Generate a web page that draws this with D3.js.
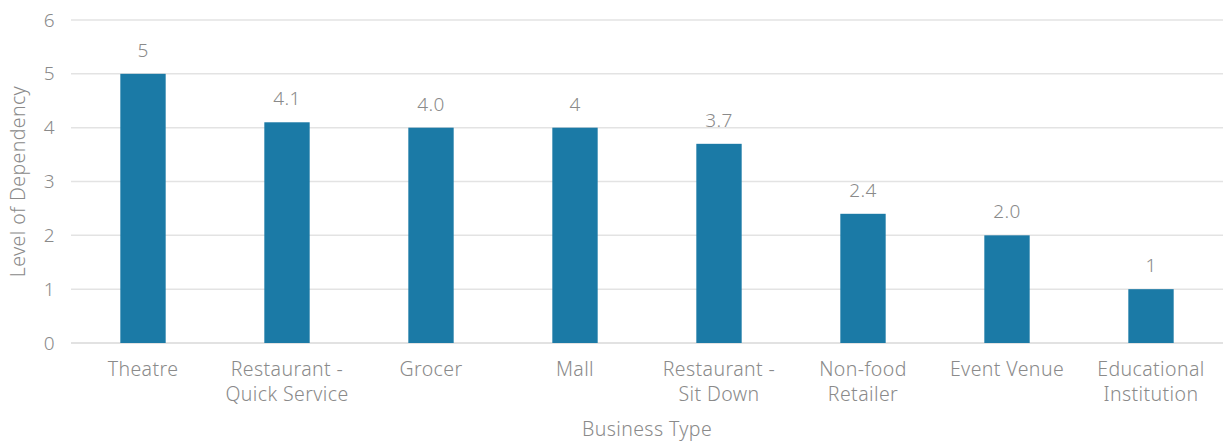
<!DOCTYPE html>
<html>
<head>
<meta charset="utf-8">
<script src="https://cdn.jsdelivr.net/npm/d3@7"></script>
<style>
  html, body { margin: 0; padding: 0; background: #fff; }
  svg text { font-family: "Noto Sans", "Open Sans", sans-serif; font-weight: 300; fill: #8a8a8a; letter-spacing: 0.4px; }
</style>
</head>
<body>
<svg id="chart" width="1224" height="444"></svg>
<script>
// Business types, their dependency scores and the number of decimals shown on each label
const categories = [
  ["Theatre"],
  ["Restaurant -", "Quick Service"],
  ["Grocer"],
  ["Mall"],
  ["Restaurant -", "Sit Down"],
  ["Non-food", "Retailer"],
  ["Event Venue"],
  ["Educational", "Institution"]
];
const values = [5, 4.1, 4.0, 4, 3.7, 2.4, 2.0, 1];
const labelDecimals = [0, 1, 1, 0, 1, 1, 1, 0];
const yTicks = [0, 1, 2, 3, 4, 5, 6];

const svg = d3.select("#chart");
const margin = { left: 71, right: 1, top: 20, bottom: 101 };
const W = 1224, H = 444;

const x = d3.scaleBand()
  .domain(d3.range(categories.length))
  .range([margin.left, W - margin.right])
  .paddingInner(0.685)
  .paddingOuter(0.3425);

const y = d3.scaleLinear().domain([0, 6]).range([H - margin.bottom, margin.top]);

// horizontal gridlines
svg.append("g")
  .selectAll("line")
  .data(yTicks)
  .join("line")
  .attr("x1", margin.left)
  .attr("x2", W - margin.right)
  .attr("y1", d => y(d))
  .attr("y2", d => y(d))
  .attr("stroke", d => d === 0 ? "#d9d9d9" : "#e3e3e3")
  .attr("stroke-width", 1.5);

// y tick labels
const yAxis = svg.append("g")
  .attr("transform", `translate(${margin.left},0)`)
  .call(d3.axisLeft(y).tickValues(yTicks).tickFormat(d3.format("d")).tickSize(0).tickPadding(16));
yAxis.select(".domain").remove();
yAxis.selectAll("text")
  .attr("font-size", 19)
  .attr("fill", "#8a8a8a")
  .style("font-family", '"Noto Sans", sans-serif')
  .style("font-weight", 300);

// bars
svg.append("g")
  .selectAll("rect")
  .data(values)
  .join("rect")
  .attr("x", (d, i) => x(i))
  .attr("width", x.bandwidth())
  .attr("y", d => y(d))
  .attr("height", d => y(0) - y(d))
  .attr("fill", "#1b7aa6");

// value labels
svg.append("g")
  .selectAll("text")
  .data(values)
  .join("text")
  .attr("x", (d, i) => x(i) + x.bandwidth() / 2)
  .attr("y", d => y(d) - 17)
  .attr("text-anchor", "middle")
  .attr("font-size", 19)
  .text((d, i) => d.toFixed(labelDecimals[i]));

// category labels
const cat = svg.append("g")
  .selectAll("text")
  .data(categories)
  .join("text")
  .attr("x", (d, i) => x(i) + x.bandwidth() / 2)
  .attr("y", 376)
  .attr("text-anchor", "middle")
  .attr("font-size", 19.5);
cat.selectAll("tspan")
  .data(d => d)
  .join("tspan")
  .attr("x", function () { return d3.select(this.parentNode).attr("x"); })
  .attr("dy", (d, i) => i === 0 ? 0 : 25)
  .text(d => d);

// axis titles
svg.append("text")
  .attr("x", (margin.left + W - margin.right) / 2)
  .attr("y", 436)
  .attr("text-anchor", "middle")
  .attr("font-size", 19.5)
  .text("Business Type");

svg.append("text")
  .attr("transform", `translate(25,${(y(0) + y(6)) / 2}) rotate(-90)`)
  .attr("text-anchor", "middle")
  .attr("font-size", 19.5)
  .text("Level of Dependency");
</script>
</body>
</html>
